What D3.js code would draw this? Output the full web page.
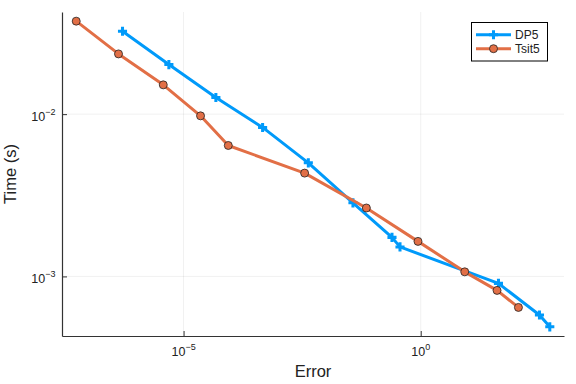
<!DOCTYPE html>
<html>
<head>
<meta charset="utf-8">
<script src="https://cdn.jsdelivr.net/npm/d3@7"></script>
<style>
  body { margin: 0; background: #fff; }
  svg { display: block; font-family: "Liberation Sans", Arial, sans-serif; }
</style>
</head>
<body>
<svg id="chart" width="576" height="384"></svg>
<script>
// work-precision data (error vs. time)
const dp5Error = [5.16e-7, 4.90e-6, 4.80e-5, 4.64e-4, 4.27e-3, 0.0373, 0.248, 0.366, 43.6, 319, 527];
const dp5Time = [0.0324, 0.0202, 0.01267, 0.00828, 0.00501, 0.00284, 0.00174, 0.00152, 0.000906, 0.000578, 0.000489];
const tsitError = [5.45e-8, 4.25e-7, 3.73e-6, 2.28e-5, 8.77e-5, 3.57e-3, 0.0715, 0.877, 8.48, 40.7, 115];
const tsitTime = [0.0374, 0.0235, 0.01515, 0.00976, 0.00641, 0.00433, 0.00264, 0.001644, 0.001067, 0.00082, 0.000644];

const seriesNames = ["DP5", "Tsit5"];
const xTicks = [1e-5, 1e0];
const xTickExp = ["\u22125", "0"];
const yTicks = [1e-3, 1e-2];
const yTickExp = ["\u22123", "\u22122"];

const colors = ["#009AFA", "#E26F46"];

const margin = { left: 62, top: 12, right: 12, bottom: 48 };
const width = 576, height = 384;

const svg = d3.select("#chart");

// log-space limits with 3% padding, like Plots.jl
function padLog(vals) {
  const lo = Math.log10(d3.min(vals)), hi = Math.log10(d3.max(vals));
  const pad = (hi - lo) * 0.03;
  return [Math.pow(10, lo - pad), Math.pow(10, hi + pad)];
}

const x = d3.scaleLog()
  .domain(padLog(dp5Error.concat(tsitError)))
  .range([margin.left, width - margin.right]);
const y = d3.scaleLog()
  .domain(padLog(dp5Time.concat(tsitTime)))
  .range([height - margin.bottom, margin.top]);

// Grid
const grid = svg.append("g").attr("stroke", "#000").attr("stroke-opacity", 0.1).attr("stroke-width", 0.6);
xTicks.forEach(t => {
  grid.append("line").attr("x1", x(t)).attr("x2", x(t)).attr("y1", y.range()[0]).attr("y2", y.range()[1]);
});
yTicks.forEach(t => {
  grid.append("line").attr("x1", x.range()[0]).attr("x2", x.range()[1]).attr("y1", y(t)).attr("y2", y(t));
});

// Axes (inward ticks, labels added separately for superscripts)
const xAxis = svg.append("g")
  .attr("transform", `translate(0,${y.range()[0]})`)
  .call(d3.axisBottom(x).tickValues(xTicks).tickSize(-5).tickSizeOuter(0).tickFormat(""));
const yAxis = svg.append("g")
  .attr("transform", `translate(${x.range()[0]},0)`)
  .call(d3.axisLeft(y).tickValues(yTicks).tickSize(-5).tickSizeOuter(0).tickFormat(""));
[xAxis, yAxis].forEach(a => {
  a.select(".domain").attr("stroke", "#333").attr("stroke-width", 1.2);
  a.selectAll(".tick line").attr("stroke", "#333").attr("stroke-width", 1);
});

xTicks.forEach((t, i) => {
  const txt = svg.append("text")
    .attr("x", x(t)).attr("y", y.range()[0] + 20)
    .attr("text-anchor", "middle")
    .attr("font-size", 12.5).attr("fill", "#222");
  txt.append("tspan").text("10");
  txt.append("tspan").attr("dy", -6).attr("font-size", 9).text(xTickExp[i]);
});
yTicks.forEach((t, i) => {
  const txt = svg.append("text")
    .attr("x", x.range()[0] - 6.5).attr("y", y(t) + 7)
    .attr("text-anchor", "end")
    .attr("font-size", 12.5).attr("fill", "#222");
  txt.append("tspan").text("10");
  txt.append("tspan").attr("dy", -6).attr("font-size", 9).text(yTickExp[i]);
});

// Axis titles
svg.append("text")
  .attr("x", (x.range()[0] + x.range()[1]) / 2).attr("y", 377)
  .attr("text-anchor", "middle").attr("font-size", 16.5).attr("fill", "#222")
  .text("Error");
svg.append("text")
  .attr("transform", `translate(16,${(y.range()[0] + y.range()[1]) / 2}) rotate(-90)`)
  .attr("text-anchor", "middle").attr("font-size", 16.5).attr("fill", "#222")
  .text("Time (s)");

// Series
const series = [
  { name: seriesNames[0], pts: dp5Error.map((e, i) => [e, dp5Time[i]]), color: colors[0], marker: "cross" },
  { name: seriesNames[1], pts: tsitError.map((e, i) => [e, tsitTime[i]]), color: colors[1], marker: "circle" }
];

const line = d3.line().x(d => x(d[0])).y(d => y(d[1]));
const crossPath = d3.symbol().type(d3.symbolCross).size(46)();

series.forEach(s => {
  svg.append("path")
    .datum(s.pts)
    .attr("d", line)
    .attr("fill", "none")
    .attr("stroke", s.color)
    .attr("stroke-width", 3)
    .attr("stroke-linejoin", "round");

  const g = svg.append("g");
  if (s.marker === "cross") {
    g.selectAll("path").data(s.pts).enter().append("path")
      .attr("d", crossPath)
      .attr("transform", d => `translate(${x(d[0])},${y(d[1])})`)
      .attr("fill", s.color);
  } else {
    g.selectAll("circle").data(s.pts).enter().append("circle")
      .attr("cx", d => x(d[0])).attr("cy", d => y(d[1]))
      .attr("r", 4)
      .attr("fill", s.color)
      .attr("stroke", "#222").attr("stroke-width", 0.8);
  }
});

// Legend
const legend = svg.append("g");
legend.append("rect")
  .attr("x", 471.5).attr("y", 22.5).attr("width", 76).attr("height", 38.5)
  .attr("fill", "#fff").attr("stroke", "#000").attr("stroke-width", 1);
series.forEach((s, i) => {
  const ly = 34.7 + i * 14;
  legend.append("line")
    .attr("x1", 476).attr("x2", 511).attr("y1", ly).attr("y2", ly)
    .attr("stroke", s.color).attr("stroke-width", 3);
  if (s.marker === "cross") {
    legend.append("path").attr("d", crossPath)
      .attr("transform", `translate(493.5,${ly})`).attr("fill", s.color);
  } else {
    legend.append("circle").attr("cx", 493.5).attr("cy", ly).attr("r", 4)
      .attr("fill", s.color).attr("stroke", "#222").attr("stroke-width", 0.8);
  }
  legend.append("text")
    .attr("x", 515).attr("y", ly + 4.3)
    .attr("font-size", 12).attr("fill", "#222")
    .text(s.name);
});
</script>
</body>
</html>
